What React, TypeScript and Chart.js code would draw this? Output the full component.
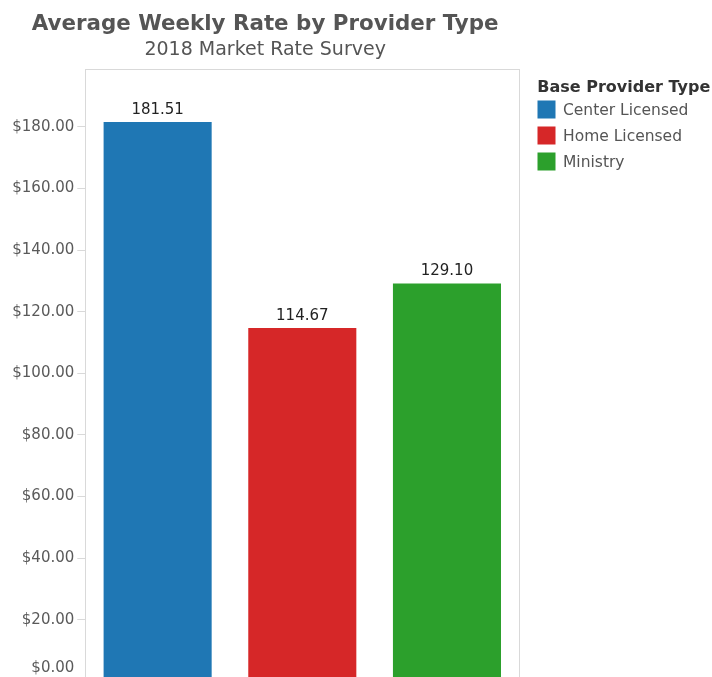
import React, { useEffect, useRef } from "react";
import { Chart, registerables } from "chart.js";

Chart.register(...registerables);

const titleText = "Average Weekly Rate by Provider Type";
const subtitleText = "2018 Market Rate Survey";
const legendTitle = "Base Provider Type";
const categories = ["Center Licensed", "Home Licensed", "Ministry"];
const rates = [181.51, 114.67, 129.1];
const colors = ["#1f77b4", "#d62728", "#2ca02c"];
const yTickValues = [0, 20, 40, 60, 80, 100, 120, 140, 160, 180];
const yMin = 0;
const yMax = 198.7;

const FONT = "'DejaVu Sans', Verdana, sans-serif";
const VIEW_W = 712;
const VIEW_H = 677;
const CANVAS_H = 700;

const money = (v: number) => "$" + v.toFixed(2);

const framePlugin = {
  id: "frame",
  beforeDatasetsDraw(chart: any) {
    const { ctx, chartArea } = chart;
    ctx.save();
    ctx.strokeStyle = "#d9d9d9";
    ctx.lineWidth = 1;
    const l = Math.round(chartArea.left) + 0.5;
    const r = Math.round(chartArea.right) + 0.5;
    const t = Math.round(chartArea.top) + 0.5;
    const b = Math.round(chartArea.bottom) + 0.5;
    ctx.strokeRect(l, t, r - l, b - t);
    ctx.restore();
  },
};

const labelsPlugin = {
  id: "valueLabels",
  afterDatasetsDraw(chart: any) {
    const { ctx } = chart;
    ctx.save();
    ctx.font = `15px ${FONT}`;
    ctx.fillStyle = "#222";
    ctx.textAlign = "center";
    ctx.textBaseline = "alphabetic";
    chart.data.datasets.forEach((ds: any, di: number) => {
      const meta = chart.getDatasetMeta(di);
      meta.data.forEach((bar: any, i: number) => {
        const v = ds.data[i];
        if (v === null || v === undefined) return;
        ctx.fillText(v.toFixed(2), bar.x, bar.y - 8.5);
      });
    });
    ctx.restore();
  },
};

// Tableau keeps the lowest axis label inside the view; emulate that.
const clampedZeroLabelPlugin = {
  id: "zeroLabel",
  afterDraw(chart: any) {
    const { ctx, chartArea } = chart;
    const y = chart.scales.y;
    const py = Math.min(y.getPixelForValue(yMin), VIEW_H - 9);
    ctx.save();
    ctx.font = `15px ${FONT}`;
    ctx.fillStyle = "#5a5a5a";
    ctx.textAlign = "right";
    ctx.textBaseline = "middle";
    ctx.fillText(money(yMin), chartArea.left - 11, py);
    ctx.restore();
  },
};

const legendPlugin = {
  id: "sideLegend",
  afterDraw(chart: any) {
    const { ctx, chartArea } = chart;
    const x0 = chartArea.right + 18;
    ctx.save();
    ctx.textAlign = "left";
    ctx.textBaseline = "alphabetic";
    ctx.font = `bold 16px ${FONT}`;
    ctx.fillStyle = "#333";
    ctx.fillText(legendTitle, x0, 92);
    chart.data.datasets.forEach((ds: any, i: number) => {
      const top = 100.5 + i * 26;
      ctx.fillStyle = ds.backgroundColor;
      ctx.fillRect(Math.round(x0) + 0.5, top, 18, 18);
      ctx.font = `15.5px ${FONT}`;
      ctx.fillStyle = "#555";
      ctx.fillText(ds.label, Math.round(x0) + 26, top + 14.5);
    });
    ctx.restore();
  },
};

export default function App() {
  const ref = useRef<HTMLCanvasElement | null>(null);

  useEffect(() => {
    if (!ref.current) return;
    Chart.defaults.font.family = FONT;
    const datasets = categories.map((c, i) => ({
      label: c,
      data: categories.map((_, j) => (j === i ? rates[i] : null)),
      backgroundColor: colors[i],
      borderWidth: 0,
      grouped: false,
      barPercentage: 0.747,
      categoryPercentage: 1,
    }));
    const chart = new Chart(ref.current, {
      type: "bar",
      data: { labels: categories, datasets },
      options: {
        animation: false,
        responsive: false,
        layout: { padding: { left: 11, right: 192.7, top: 0, bottom: CANVAS_H - 681.5 } },
        plugins: {
          legend: { display: false },
          tooltip: { enabled: false },
          title: {
            display: true,
            text: titleText,
            color: "#555",
            font: { family: FONT, size: 21.4, weight: "bold", lineHeight: 1.2 },
            padding: { top: 11.7, bottom: 0 },
          },
          subtitle: {
            display: true,
            text: subtitleText,
            color: "#555",
            font: { family: FONT, size: 19, weight: "normal", lineHeight: 1.2 },
            padding: { top: 1, bottom: 7.9 },
          },
        },
        scales: {
          x: { display: false },
          y: {
            min: yMin,
            max: yMax,
            afterBuildTicks(scale: any) {
              scale.ticks = yTickValues.map((v) => ({ value: v }));
            },
            afterFit(scale: any) {
              scale.width = 74.3;
            },
            border: { display: false },
            grid: {
              drawOnChartArea: false,
              drawTicks: true,
              tickLength: 8,
              color: "#d9d9d9",
            },
            ticks: {
              padding: 3,
              color: "#5a5a5a",
              font: { family: FONT, size: 15 },
              callback: (v: any) => (Number(v) === yMin ? "" : money(Number(v))),
            },
          },
        },
      },
      plugins: [framePlugin, labelsPlugin, clampedZeroLabelPlugin, legendPlugin],
    });
    return () => chart.destroy();
  }, []);

  return (
    <div
      style={{
        position: "fixed",
        left: 0,
        top: 0,
        width: VIEW_W,
        height: VIEW_H,
        overflow: "hidden",
        background: "#fff",
      }}
    >
      <canvas
        ref={ref}
        width={VIEW_W}
        height={CANVAS_H}
        style={{ display: "block", width: VIEW_W, height: CANVAS_H }}
      />
    </div>
  );
}
